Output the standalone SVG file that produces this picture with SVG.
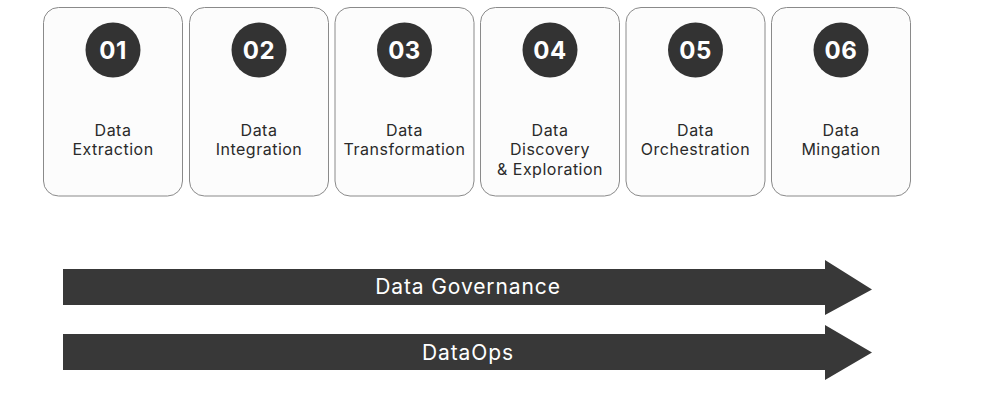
<svg xmlns="http://www.w3.org/2000/svg" width="991" height="394" viewBox="0 0 991 394">
  <style>
    .card { fill: #fcfcfc; stroke: #8a8a8a; stroke-width: 1; }
    .badge { fill: #333333; }
    .num { font-family: "Inter", "Liberation Sans", sans-serif; font-weight: 700; font-size: 24px; letter-spacing: 0.5px; fill: #ffffff; text-anchor: middle; }
    .label { font-family: "Inter", "Liberation Sans", sans-serif; font-size: 16px; letter-spacing: 0.5px; fill: #2a2a2a; text-anchor: middle; }
    .band { fill: #383838; }
    .band-text { font-family: "Inter", "Liberation Sans", sans-serif; font-size: 21px; letter-spacing: 0.9px; fill: #ffffff; text-anchor: middle; }
  </style>
  <rect width="991" height="394" fill="#ffffff"/>

  <g id="step-01">
    <rect class="card" x="43.5" y="7.5" width="139" height="188.5" rx="15"/>
    <circle class="badge" cx="113" cy="50" r="27.5"/>
    <text class="num" x="113" y="58.5">01</text>
    <text class="label" x="113" y="135.5">Data</text>
    <text class="label" x="113" y="155">Extraction</text>
  </g>
  <g id="step-02">
    <rect class="card" x="189.5" y="7.5" width="139" height="188.5" rx="15"/>
    <circle class="badge" cx="259" cy="50" r="27.5"/>
    <text class="num" x="259" y="58.5">02</text>
    <text class="label" x="259" y="135.5">Data</text>
    <text class="label" x="259" y="155">Integration</text>
  </g>
  <g id="step-03">
    <rect class="card" x="335" y="7.5" width="139" height="188.5" rx="15"/>
    <circle class="badge" cx="404.5" cy="50" r="27.5"/>
    <text class="num" x="404.5" y="58.5">03</text>
    <text class="label" x="404.5" y="135.5">Data</text>
    <text class="label" x="404.5" y="155">Transformation</text>
  </g>
  <g id="step-04">
    <rect class="card" x="480.5" y="7.5" width="139" height="188.5" rx="15"/>
    <circle class="badge" cx="550" cy="50" r="27.5"/>
    <text class="num" x="550" y="58.5">04</text>
    <text class="label" x="550" y="135.5">Data</text>
    <text class="label" x="550" y="155">Discovery</text>
    <text class="label" x="550" y="174.5">&amp; Exploration</text>
  </g>
  <g id="step-05">
    <rect class="card" x="626" y="7.5" width="139" height="188.5" rx="15"/>
    <circle class="badge" cx="695.5" cy="50" r="27.5"/>
    <text class="num" x="695.5" y="58.5">05</text>
    <text class="label" x="695.5" y="135.5">Data</text>
    <text class="label" x="695.5" y="155">Orchestration</text>
  </g>
  <g id="step-06">
    <rect class="card" x="771.5" y="7.5" width="139" height="188.5" rx="15"/>
    <circle class="badge" cx="841" cy="50" r="27.5"/>
    <text class="num" x="841" y="58.5">06</text>
    <text class="label" x="841" y="135.5">Data</text>
    <text class="label" x="841" y="155">Mingation</text>
  </g>

  <g id="connectors">
    <g id="governance">
      <polygon class="band" points="63,269 825,269 825,260 872,289.5 825,315 825,305 63,305"/>
      <text class="band-text" x="468" y="294">Data Governance</text>
    </g>
    <g id="dataops">
      <polygon class="band" points="63,334 825,334 825,325 872,352.5 825,380 825,370 63,370"/>
      <text class="band-text" x="468" y="359.5">DataOps</text>
    </g>
  </g>
</svg>
